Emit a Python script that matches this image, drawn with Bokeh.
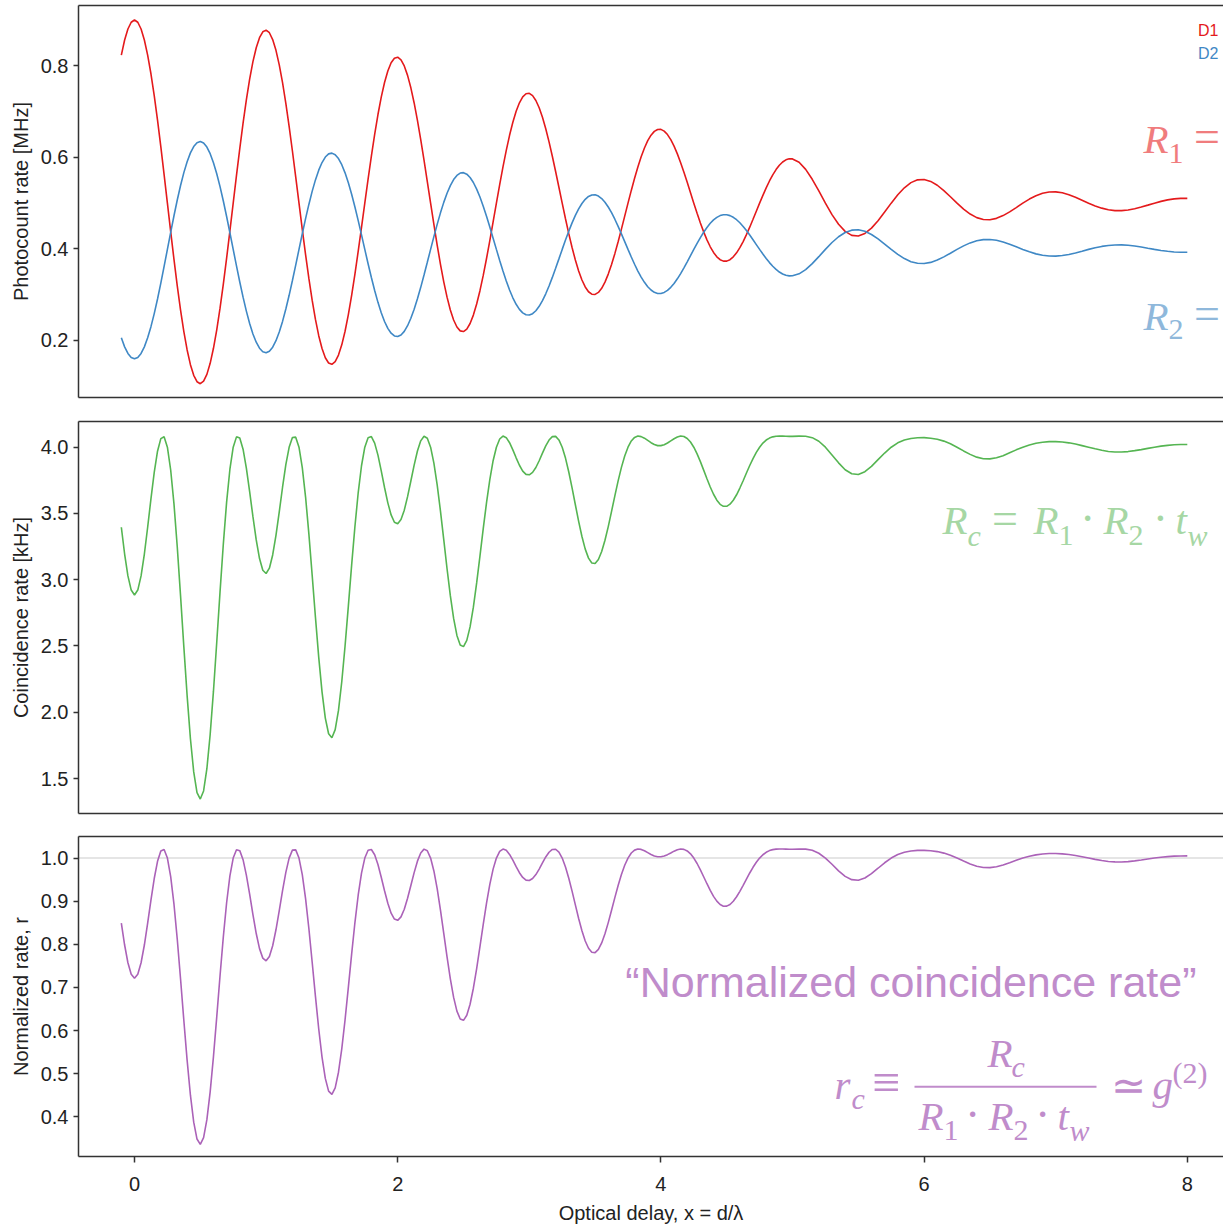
from bokeh.plotting import figure
from bokeh.models import (Range1d, FixedTicker, LinearAxis, Label, Span,
                          BoxAnnotation, NumeralTickFormatter, ColumnDataSource)
from bokeh.layouts import column
from bokeh.embed import file_html
from bokeh.resources import INLINE

# ---------------- data ----------------
# coarse readings every 0.05 in x (-0.10 ... 8.00)
X_A = [round(-0.10 + 0.05 * i, 3) for i in range(163)]
# extra readings half-way between them where the curves swing strongly (-0.075 ... 4.975)
X_B = [round(-0.075 + 0.05 * i, 3) for i in range(102)]

R1_A = [0.8234, 0.8804, 0.9000, 0.8804, 0.8234, 0.7348, 0.6233, 0.5000, 0.3770, 0.2665,
        0.1793, 0.1239, 0.1056, 0.1260, 0.1830, 0.2705, 0.3798, 0.5000, 0.6192, 0.7257,
        0.8090, 0.8614,
        0.8779, 0.8573, 0.8021, 0.7181, 0.6139, 0.5000, 0.3877, 0.2880, 0.2105, 0.1624,
        0.1480, 0.1681, 0.2202, 0.2986, 0.3951, 0.5000, 0.6028, 0.6936, 0.7636, 0.8065,
        0.8187, 0.7996, 0.7519, 0.6808, 0.5939, 0.5000, 0.4085, 0.3282, 0.2667, 0.2295,
        0.2196, 0.2371, 0.2796, 0.3422, 0.4183, 0.5000, 0.5792, 0.6482, 0.7007, 0.7320,
        0.7399, 0.7243, 0.6875, 0.6338, 0.5691, 0.5000, 0.4334, 0.3757, 0.3322, 0.3065,
        0.3006, 0.3141, 0.3450, 0.3897, 0.4432, 0.5000, 0.5544, 0.6013, 0.6364, 0.6568,
        0.6612, 0.6498, 0.6245, 0.5884, 0.5454, 0.5000, 0.4568, 0.4198, 0.3923, 0.3765,
        0.3734, 0.3827, 0.4028, 0.4312, 0.4648, 0.5000, 0.5334, 0.5618, 0.5827, 0.5946,
        0.5966, 0.5893, 0.5738, 0.5521, 0.5266, 0.5000, 0.4749, 0.4538, 0.4383, 0.4296,
        0.4283, 0.4339, 0.4455, 0.4617, 0.4805, 0.5000, 0.5183, 0.5336, 0.5448, 0.5509,
        0.5517, 0.5475, 0.5391, 0.5274, 0.5139, 0.5000, 0.4870, 0.4762, 0.4684, 0.4642,
        0.4637, 0.4668, 0.4728, 0.4809, 0.4904, 0.5000, 0.5089, 0.5163, 0.5216, 0.5245,
        0.5247, 0.5226, 0.5185, 0.5129, 0.5065, 0.5000, 0.4940, 0.4891, 0.4856, 0.4837,
        0.4836, 0.4851, 0.4878, 0.4915, 0.4957, 0.5000, 0.5039, 0.5071, 0.5093, 0.5105,
        0.5105]
R1_B = [0.8563, 0.8951, 0.8951, 0.8563, 0.7826, 0.6813, 0.5624, 0.4377, 0.3195, 0.2194,
        0.1472, 0.1100, 0.1111, 0.1502, 0.2234, 0.3230, 0.4393, 0.5605, 0.6747, 0.7708,
        0.8395, 0.8743, 0.8722, 0.8338, 0.7632, 0.6679, 0.5575, 0.4429, 0.3356, 0.2460,
        0.1824, 0.1509, 0.1538, 0.1905, 0.2566, 0.3452, 0.4472, 0.5523, 0.6503, 0.7316,
        0.7887, 0.8165, 0.8130, 0.7791, 0.7188, 0.6388, 0.5472, 0.4534, 0.3664, 0.2947,
        0.2448, 0.2210, 0.2250, 0.2555, 0.3088, 0.3791, 0.4590, 0.5404, 0.6154, 0.6768,
        0.7192, 0.7389, 0.7349, 0.7083, 0.6624, 0.6024, 0.5347, 0.4660, 0.4031, 0.3519,
        0.3170, 0.3011, 0.3050, 0.3276, 0.3659, 0.4157, 0.4716, 0.5278, 0.5791, 0.6205,
        0.6485, 0.6610, 0.6574, 0.6387, 0.6076, 0.5674, 0.5227, 0.4778, 0.4373, 0.4047,
        0.3828, 0.3734, 0.3766, 0.3915, 0.4161, 0.4475, 0.4824, 0.5171, 0.5484, 0.5733,
        0.5898, 0.5968]

R2_A = [0.2058, 0.1717, 0.1600, 0.1717, 0.2058, 0.2587, 0.3253, 0.3990, 0.4725, 0.5385,
        0.5906, 0.6237, 0.6346, 0.6224, 0.5884, 0.5362, 0.4708, 0.3990, 0.3278, 0.2642,
        0.2143, 0.1831,
        0.1732, 0.1855, 0.2185, 0.2687, 0.3310, 0.3990, 0.4661, 0.5257, 0.5720, 0.6007,
        0.6093, 0.5973, 0.5662, 0.5194, 0.4617, 0.3990, 0.3376, 0.2833, 0.2415, 0.2159,
        0.2086, 0.2200, 0.2485, 0.2910, 0.3429, 0.3990, 0.4537, 0.5017, 0.5384, 0.5606,
        0.5666, 0.5561, 0.5307, 0.4933, 0.4478, 0.3990, 0.3517, 0.3104, 0.2791, 0.2604,
        0.2557, 0.2650, 0.2870, 0.3191, 0.3577, 0.3990, 0.4388, 0.4733, 0.4993, 0.5146,
        0.5182, 0.5101, 0.4916, 0.4649, 0.4329, 0.3990, 0.3665, 0.3385, 0.3175, 0.3053,
        0.3027, 0.3095, 0.3246, 0.3462, 0.3719, 0.3990, 0.4248, 0.4469, 0.4634, 0.4728,
        0.4746, 0.4691, 0.4571, 0.4401, 0.4201, 0.3990, 0.3791, 0.3621, 0.3496, 0.3425,
        0.3413, 0.3456, 0.3549, 0.3679, 0.3831, 0.3990, 0.4140, 0.4266, 0.4359, 0.4410,
        0.4419, 0.4385, 0.4316, 0.4219, 0.4107, 0.3990, 0.3881, 0.3789, 0.3722, 0.3686,
        0.3681, 0.3706, 0.3757, 0.3826, 0.3907, 0.3990, 0.4067, 0.4132, 0.4179, 0.4204,
        0.4207, 0.4189, 0.4153, 0.4104, 0.4048, 0.3990, 0.3937, 0.3892, 0.3861, 0.3844,
        0.3842, 0.3855, 0.3880, 0.3913, 0.3951, 0.3990, 0.4026, 0.4055, 0.4076, 0.4087,
        0.4088, 0.4079, 0.4063, 0.4041, 0.4015, 0.3990, 0.3967, 0.3948, 0.3934, 0.3927,
        0.3927]
R2_B = [0.1861, 0.1630, 0.1630, 0.1861, 0.2302, 0.2907, 0.3617, 0.4362, 0.5069, 0.5667,
        0.6098, 0.6321, 0.6314, 0.6080, 0.5643, 0.5047, 0.4353, 0.3629, 0.2946, 0.2372,
        0.1962, 0.1754, 0.1766, 0.1996, 0.2417, 0.2987, 0.3647, 0.4331, 0.4972, 0.5508,
        0.5887, 0.6076, 0.6058, 0.5840, 0.5445, 0.4915, 0.4306, 0.3677, 0.3092, 0.2606,
        0.2265, 0.2099, 0.2120, 0.2323, 0.2683, 0.3161, 0.3708, 0.4269, 0.4788, 0.5217,
        0.5515, 0.5657, 0.5633, 0.5451, 0.5133, 0.4713, 0.4235, 0.3749, 0.3301, 0.2933,
        0.2680, 0.2562, 0.2586, 0.2746, 0.3020, 0.3378, 0.3783, 0.4193, 0.4569, 0.4875,
        0.5083, 0.5179, 0.5155, 0.5020, 0.4791, 0.4494, 0.4160, 0.3824, 0.3517, 0.3270,
        0.3103, 0.3028, 0.3050, 0.3161, 0.3347, 0.3587, 0.3854, 0.4122, 0.4365, 0.4560,
        0.4690, 0.4747, 0.4728, 0.4638, 0.4491, 0.4303, 0.4095, 0.3888, 0.3701, 0.3552,
        0.3453, 0.3412]

RC_A = [3.396, 3.029, 2.885, 3.029, 3.396, 3.810, 4.065, 4.000, 3.572, 2.878,
        2.124, 1.550, 1.345, 1.574, 2.159, 2.908, 3.586, 4.000, 4.069, 3.842,
        3.476, 3.160,
        3.047, 3.187, 3.512, 3.868, 4.073, 4.000, 3.624, 3.036, 2.414, 1.956,
        1.808, 2.014, 2.500, 3.110, 3.658, 4.000, 4.080, 3.940, 3.696, 3.489,
        3.422, 3.525, 3.745, 3.971, 4.083, 4.000, 3.716, 3.302, 2.880, 2.580,
        2.495, 2.644, 2.976, 3.385, 3.756, 4.000, 4.084, 4.034, 3.920, 3.820,
        3.792, 3.847, 3.955, 4.054, 4.082, 4.000, 3.813, 3.566, 3.326, 3.163,
        3.123, 3.213, 3.401, 3.633, 3.848, 4.000, 4.074, 4.080, 4.051, 4.020,
        4.012, 4.032, 4.064, 4.084, 4.066, 4.000, 3.891, 3.762, 3.645, 3.569,
        3.554, 3.600, 3.692, 3.805, 3.914, 4.000, 4.054, 4.078, 4.084, 4.083,
        4.082, 4.084, 4.083, 4.072, 4.045, 4.000, 3.942, 3.882, 3.830, 3.800,
        3.794, 3.815, 3.855, 3.906, 3.956, 4.000, 4.033, 4.054, 4.066, 4.071,
        4.072, 4.068, 4.060, 4.046, 4.026, 4.000, 3.972, 3.946, 3.925, 3.913,
        3.912, 3.920, 3.936, 3.958, 3.980, 4.000, 4.017, 4.030, 4.038, 4.042,
        4.042, 4.039, 4.033, 4.024, 4.012, 4.000, 3.988, 3.977, 3.968, 3.964,
        3.964, 3.967, 3.974, 3.982, 3.991, 4.000, 4.008, 4.014, 4.018, 4.020,
        4.020]
RC_B = [3.194, 2.922, 2.922, 3.194, 3.610, 3.970, 4.079, 3.828, 3.247, 2.493,
        1.800, 1.394, 1.406, 1.832, 2.528, 3.270, 3.834, 4.078, 3.985, 3.665,
        3.300, 3.072, 3.087, 3.335, 3.698, 3.999, 4.076, 3.846, 3.346, 2.717,
        2.154, 1.838, 1.869, 2.230, 2.801, 3.402, 3.860, 4.072, 4.031, 3.822,
        3.580, 3.434, 3.454, 3.627, 3.865, 4.048, 4.068, 3.880, 3.518, 3.083,
        2.708, 2.508, 2.542, 2.793, 3.178, 3.582, 3.898, 4.062, 4.072, 3.980,
        3.864, 3.795, 3.810, 3.898, 4.010, 4.080, 4.055, 3.918, 3.693, 3.440,
        3.231, 3.126, 3.153, 3.298, 3.516, 3.746, 3.933, 4.047, 4.084, 4.068,
        4.034, 4.012, 4.019, 4.048, 4.077, 4.081, 4.039, 3.950, 3.827, 3.700,
        3.600, 3.554, 3.570, 3.641, 3.747, 3.862, 3.961, 4.031, 4.069, 4.083,
        4.084, 4.082]

RN_A = [0.8489, 0.7573, 0.7213, 0.7573, 0.8489, 0.9526, 1.0163, 1.0000, 0.8930, 0.7195,
        0.5310, 0.3875, 0.3362, 0.3934, 0.5397, 0.7270, 0.8964, 1.0000, 1.0172, 0.9606,
        0.8689, 0.7900,
        0.7617, 0.7967, 0.8781, 0.9669, 1.0183, 1.0000, 0.9059, 0.7590, 0.6036, 0.4891,
        0.4521, 0.5034, 0.6250, 0.7774, 0.9144, 1.0000, 1.0199, 0.9849, 0.9241, 0.8723,
        0.8556, 0.8813, 0.9363, 0.9928, 1.0207, 1.0000, 0.9290, 0.8254, 0.7199, 0.6450,
        0.6237, 0.6610, 0.7439, 0.8463, 0.9390, 1.0000, 1.0209, 1.0085, 0.9800, 0.9551,
        0.9479, 0.9618, 0.9888, 1.0135, 1.0204, 1.0000, 0.9533, 0.8914, 0.8315, 0.7908,
        0.7808, 0.8032, 0.8503, 0.9082, 0.9619, 1.0000, 1.0184, 1.0201, 1.0127, 1.0050,
        1.0030, 1.0079, 1.0160, 1.0209, 1.0166, 1.0000, 0.9727, 0.9405, 0.9112, 0.8923,
        0.8885, 0.8999, 0.9229, 0.9513, 0.9786, 1.0000, 1.0134, 1.0196, 1.0210, 1.0207,
        1.0205, 1.0209, 1.0207, 1.0180, 1.0112, 1.0000, 0.9856, 0.9704, 0.9576, 0.9499,
        0.9486, 0.9537, 0.9638, 0.9764, 0.9891, 1.0000, 1.0082, 1.0135, 1.0165, 1.0178,
        1.0179, 1.0171, 1.0150, 1.0115, 1.0064, 1.0000, 0.9930, 0.9864, 0.9812, 0.9782,
        0.9779, 0.9800, 0.9841, 0.9894, 0.9949, 1.0000, 1.0042, 1.0074, 1.0095, 1.0105,
        1.0106, 1.0098, 1.0082, 1.0060, 1.0031, 1.0000, 0.9969, 0.9942, 0.9921, 0.9911,
        0.9910, 0.9918, 0.9935, 0.9955, 0.9978, 1.0000, 1.0019, 1.0034, 1.0044, 1.0049,
        1.0050]
RN_B = [0.7984, 0.7306, 0.7306, 0.7984, 0.9025, 0.9925, 1.0197, 0.9571, 0.8118, 0.6233,
        0.4501, 0.3485, 0.3516, 0.4579, 0.6319, 0.8174, 0.9585, 1.0194, 0.9962, 0.9162,
        0.8250, 0.7680, 0.7717, 0.8337, 0.9245, 0.9998, 1.0189, 0.9616, 0.8366, 0.6792,
        0.5385, 0.4596, 0.4673, 0.5576, 0.7003, 0.8505, 0.9651, 1.0181, 1.0077, 0.9555,
        0.8951, 0.8586, 0.8636, 0.9067, 0.9663, 1.0119, 1.0170, 0.9701, 0.8795, 0.7707,
        0.6769, 0.6269, 0.6354, 0.6982, 0.7945, 0.8955, 0.9744, 1.0154, 1.0180, 0.9950,
        0.9660, 0.9488, 0.9525, 0.9745, 1.0025, 1.0200, 1.0138, 0.9795, 0.9233, 0.8600,
        0.8078, 0.7816, 0.7882, 0.8244, 0.8789, 0.9364, 0.9833, 1.0117, 1.0209, 1.0170,
        1.0084, 1.0031, 1.0048, 1.0119, 1.0193, 1.0202, 1.0098, 0.9874, 0.9567, 0.9249,
        0.9001, 0.8884, 0.8924, 0.9103, 0.9368, 0.9654, 0.9902, 1.0077, 1.0173, 1.0207,
        1.0209, 1.0205]

X_TICKS = [0, 2, 4, 6, 8]
Y1_TICKS = [0.2, 0.4, 0.6, 0.8]
Y2_TICKS = [1.5, 2.0, 2.5, 3.0, 3.5, 4.0]
Y3_TICKS = [0.4, 0.5, 0.6, 0.7, 0.8, 0.9, 1.0]

# merge both sets of readings in x order
_order = sorted(range(len(X_A) + len(X_B)), key=lambda i: (X_A + X_B)[i])
def _merge(a, b):
    allv = a + b
    return [allv[i] for i in _order]

src = ColumnDataSource(dict(x=_merge(X_A, X_B), r1=_merge(R1_A, R1_B), r2=_merge(R2_A, R2_B),
                            rc=_merge(RC_A, RC_B), rn=_merge(RN_A, RN_B)))

# ---------------- styling ----------------
SANS = "Liberation Sans"
SERIF = "Liberation Serif"
INK = "#222222"
FRAME = "#333333"
C_R1, C_R2, C_RC, C_RN = "#e41a1c", "#3f88c5", "#55b552", "#ab62b8"
T_R1, T_R2, T_RC, T_RN = "#f07c7d", "#8fb8db", "#a6d7a4", "#c08ccb"

W = 1223
XR = Range1d(-0.4255, 8.275)


def make_fig(height, yr, top, bottom):
    p = figure(width=W, height=height, x_range=XR, y_range=Range1d(*yr),
               output_backend="svg", toolbar_location=None,
               x_axis_location=None, y_axis_location=None,
               min_border_left=78, min_border_right=0,
               min_border_top=top, min_border_bottom=bottom)
    p.grid.visible = False
    p.outline_line_color = None
    p.background_fill_color = "white"
    p.border_fill_color = "white"
    return p


def plain_axis():
    return LinearAxis(ticker=FixedTicker(ticks=[]), major_label_text_font_size="0px",
                      major_tick_out=0, major_tick_in=0, minor_tick_out=0, minor_tick_in=0,
                      major_label_standoff=0, axis_line_color=FRAME, axis_line_width=1.5)


def left_axis(ticks, label):
    return LinearAxis(ticker=FixedTicker(ticks=ticks), formatter=NumeralTickFormatter(format="0.0"),
                      axis_label=label, axis_line_color=FRAME, axis_line_width=1.5,
                      major_tick_out=5, major_tick_in=0, major_tick_line_color=FRAME,
                      major_tick_line_width=1.5, minor_tick_out=0, minor_tick_in=0,
                      major_label_text_font=SANS, major_label_text_font_size="20px",
                      major_label_text_color=INK, major_label_standoff=5,
                      axis_label_text_font=SANS, axis_label_text_font_size="20px",
                      axis_label_text_font_style="normal", axis_label_text_color=INK,
                      axis_label_standoff=6)


def lab(p, x, y, text, size, color, italic=False, font=SERIF, align="left", baseline="alphabetic"):
    # the renderer sits alphabetic text about a third of an em low; lift it back
    lift = round(0.35 * size) if baseline == "alphabetic" else 0
    p.add_layout(Label(x=x, y=y, text=text, text_font=font, text_font_size=f"{size}px",
                       text_font_style="italic" if italic else "normal",
                       text_color=color, text_align=align, text_baseline=baseline,
                       y_offset=lift))


# ---------------- panel 1: photocount rates ----------------
p1 = make_fig(409, (0.0755, 0.9317), 5, 12)
p1.add_layout(left_axis(Y1_TICKS, "Photocount rate [MHz]"), "left")
p1.add_layout(plain_axis(), "above")
p1.add_layout(plain_axis(), "below")
p1.line("x", "r1", source=src, line_color=C_R1, line_width=1.6)
p1.line("x", "r2", source=src, line_color=C_R2, line_width=1.6)
lab(p1, 8.237, 0.877, "D1", 16, C_R1, font=SANS, align="right", baseline="middle")
lab(p1, 8.237, 0.826, "D2", 16, C_R2, font=SANS, align="right", baseline="middle")
lab(p1, 7.667, 0.6106, "R", 41, T_R1, italic=True)
lab(p1, 7.857, 0.5866, "1", 30, T_R1)
lab(p1, 8.050, 0.6106, "=", 46, T_R1)
lab(p1, 7.667, 0.224, "R", 41, T_R2, italic=True)
lab(p1, 7.857, 0.202, "2", 30, T_R2)
lab(p1, 8.050, 0.224, "=", 46, T_R2)

# ---------------- panel 2: coincidence rate ----------------
p2 = make_fig(415, (1.236, 4.194), 12, 11)
p2.add_layout(left_axis(Y2_TICKS, "Coincidence rate [kHz]"), "left")
p2.add_layout(plain_axis(), "above")
p2.add_layout(plain_axis(), "below")
p2.line("x", "rc", source=src, line_color=C_RC, line_width=1.6)
yb, ys = 3.342, 3.259
lab(p2, 6.140, yb, "R", 41, T_RC, italic=True)
lab(p2, 6.330, ys, "c", 30, T_RC, italic=True)
lab(p2, 6.515, yb, "=", 46, T_RC)
lab(p2, 6.831, yb, "R", 41, T_RC, italic=True)
lab(p2, 7.021, ys, "1", 30, T_RC)
lab(p2, 7.242, yb, "·", 46, T_RC, align="center")
lab(p2, 7.363, yb, "R", 41, T_RC, italic=True)
lab(p2, 7.553, ys, "2", 30, T_RC)
lab(p2, 7.796, yb, "·", 46, T_RC, align="center")
lab(p2, 7.910, yb, "t", 41, T_RC, italic=True)
lab(p2, 8.002, ys, "w", 30, T_RC, italic=True)

# ---------------- panel 3: normalized rate ----------------
p3 = make_fig(402, (0.308, 1.050), 12, 68)
p3.add_layout(left_axis(Y3_TICKS, "Normalized rate, r"), "left")
p3.add_layout(plain_axis(), "above")
xax = LinearAxis(ticker=FixedTicker(ticks=X_TICKS), axis_label="Optical delay, x = d/λ",
                 axis_line_color=FRAME, axis_line_width=1.5,
                 major_tick_out=6, major_tick_in=0, major_tick_line_color=FRAME,
                 major_tick_line_width=1.5, minor_tick_out=0, minor_tick_in=0,
                 major_label_text_font=SANS, major_label_text_font_size="20px",
                 major_label_text_color=INK, major_label_standoff=14,
                 axis_label_text_font=SANS, axis_label_text_font_size="20px",
                 axis_label_text_font_style="normal", axis_label_text_color=INK,
                 axis_label_standoff=8)
p3.add_layout(xax, "below")
p3.add_layout(Span(location=1.0, dimension="width", line_color="#dcdcdc", line_width=1.5,
                   level="underlay"))
p3.line("x", "rn", source=src, line_color=C_RN, line_width=1.6)

lab(p3, 8.070, 0.677, "\u201cNormalized coincidence rate\u201d", 43, T_RN, font=SANS, align="right")
lab(p3, 5.319, 0.4422, "r", 41, T_RN, italic=True)
lab(p3, 5.448, 0.4192, "c", 30, T_RN, italic=True)
lab(p3, 5.605, 0.4380, "\u2261", 50, T_RN)
p3.add_layout(BoxAnnotation(left=5.927, right=7.310, bottom=0.4675, top=0.4721,
                            fill_color=T_RN, fill_alpha=1.0, line_color=None))
lab(p3, 6.482, 0.5159, "R", 41, T_RN, italic=True)
lab(p3, 6.664, 0.4929, "c", 30, T_RN, italic=True)
yd, yds = 0.3686, 0.3455
lab(p3, 5.957, yd, "R", 41, T_RN, italic=True)
lab(p3, 6.147, yds, "1", 30, T_RN)
lab(p3, 6.368, yd, "·", 46, T_RN, align="center")
lab(p3, 6.489, yd, "R", 41, T_RN, italic=True)
lab(p3, 6.679, yds, "2", 30, T_RN)
lab(p3, 6.900, yd, "·", 46, T_RN, align="center")
lab(p3, 7.014, yd, "t", 41, T_RN, italic=True)
lab(p3, 7.105, yds, "w", 30, T_RN, italic=True)
lab(p3, 7.420, 0.4376, "\u2243", 42, T_RN)
lab(p3, 7.736, 0.4422, "g", 41, T_RN, italic=True)
lab(p3, 7.888, 0.479, "(2)", 30, T_RN)

layout = column(p1, p2, p3, spacing=0)
open("out.html", "w").write(file_html(layout, INLINE))
